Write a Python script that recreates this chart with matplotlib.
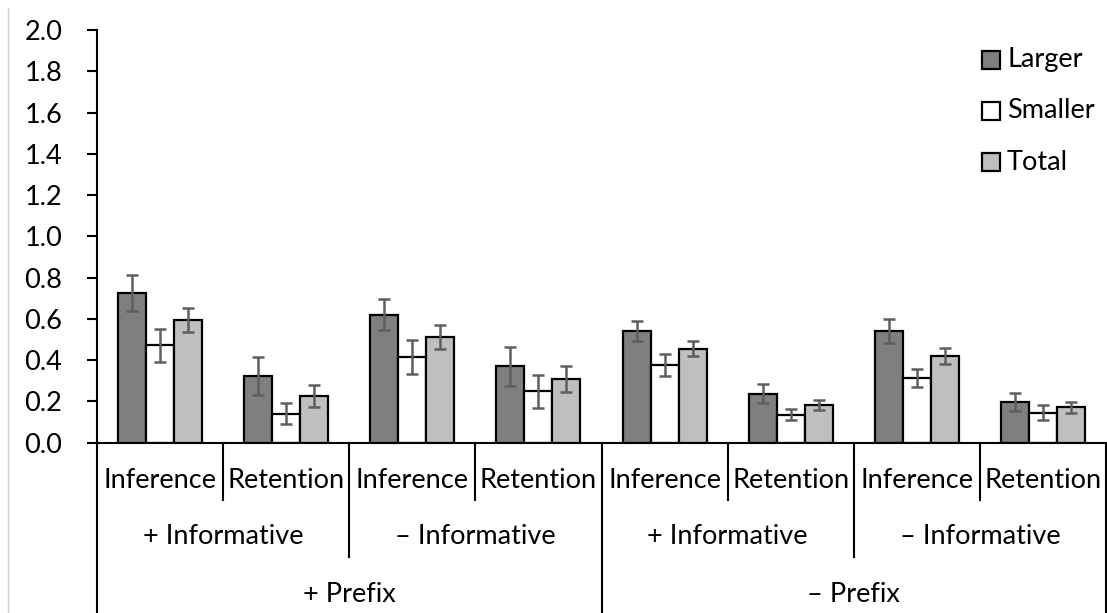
import matplotlib
matplotlib.use("Agg")
import matplotlib.pyplot as plt
from matplotlib.lines import Line2D
from matplotlib.patches import Rectangle
from matplotlib.transforms import blended_transform_factory
import numpy as np

plt.rcParams['font.family'] = ['Lato', 'DejaVu Sans']

# Category hierarchy (innermost first)
tasks = ["Inference", "Retention", "Inference", "Retention",
         "Inference", "Retention", "Inference", "Retention"]
informative = ["+ Informative", "\u2013 Informative", "+ Informative", "\u2013 Informative"]
prefix = ["+ Prefix", "\u2013 Prefix"]

series = ["Larger", "Smaller", "Total"]
larger = [0.725, 0.323, 0.620, 0.370, 0.541, 0.238, 0.541, 0.199]
smaller = [0.473, 0.141, 0.414, 0.249, 0.377, 0.136, 0.312, 0.145]
total = [0.596, 0.226, 0.511, 0.310, 0.456, 0.183, 0.419, 0.171]

larger_err = [0.089, 0.092, 0.075, 0.094, 0.049, 0.045, 0.060, 0.043]
smaller_err = [0.080, 0.052, 0.082, 0.081, 0.052, 0.027, 0.043, 0.036]
total_err = [0.058, 0.052, 0.057, 0.062, 0.038, 0.025, 0.040, 0.028]

yticks = [0.0, 0.2, 0.4, 0.6, 0.8, 1.0, 1.2, 1.4, 1.6, 1.8, 2.0]

fills = ["#7f7f7f", "#ffffff", "#bfbfbf"]
err_color = "#5f5f5f"
FS = 19.5

W, H = 1107, 613
fig = plt.figure(figsize=(W / 100, H / 100), dpi=100)
ax_left, ax_right, ax_top, ax_bottom = 97, 1106, 30, 442.7
ax = fig.add_axes([ax_left / W, (H - ax_bottom) / H,
                   (ax_right - ax_left) / W, (ax_bottom - ax_top) / H])

n = len(tasks)
x = np.arange(n) + 0.5
bw = 0.222
values = [larger, smaller, total]
errors = [larger_err, smaller_err, total_err]
for i, (vals, errs, col) in enumerate(zip(values, errors, fills)):
    pos = x + (i - 1) * bw
    ax.bar(pos, vals, width=bw, color=col, edgecolor="black", linewidth=1.6,
           zorder=2, label=series[i])
    ax.errorbar(pos, vals, yerr=errs, fmt="none", ecolor=err_color,
                elinewidth=1.8, capsize=4.5, capthick=1.8, zorder=3)

ax.set_xlim(0, n)
ax.set_ylim(0, 2.0)
ax.set_yticks(yticks)
ax.set_yticklabels([f"{t:.1f}" for t in yticks])
ax.tick_params(axis="y", direction="out", length=7, width=1.5, pad=18,
               labelsize=FS)
ax.set_xticks([])
for s in ["top", "right"]:
    ax.spines[s].set_visible(False)
ax.spines["left"].set_linewidth(1.5)
ax.spines["bottom"].set_linewidth(1.5)

# Multi-level category axis: separators and labels below the plot
tr = blended_transform_factory(ax.transData, fig.transFigure)

def fy(py):
    return (H - py) / H

def vline(xd, y0, y1):
    fig.add_artist(Line2D([xd, xd], [fy(y0), fy(y1)], transform=tr,
                          color="black", linewidth=1.5))

for b in range(0, n + 1):
    if b % 4 == 0:
        vline(b, ax_bottom, H)
    elif b % 2 == 0:
        vline(b, ax_bottom, 557)
    else:
        vline(b, ax_bottom, 500)

for i, t in enumerate(tasks):
    fig.text(i + 0.5, fy(481), t, transform=tr, ha="center", va="center",
             fontsize=FS)
for i, t in enumerate(informative):
    fig.text(2 * i + 1, fy(537), t, transform=tr, ha="center", va="center",
             fontsize=FS)
for i, t in enumerate(prefix):
    fig.text(4 * i + 2, fy(595), t, transform=tr, ha="center", va="center",
             fontsize=FS)

# faint frame edge on the left
fig.add_artist(Line2D([8 / W, 8 / W], [0, fy(8)], transform=fig.transFigure,
                      color="#d0d0d0", linewidth=1))

# Legend: swatches and labels stacked at the top right
for i, (name, col) in enumerate(zip(series, fills)):
    cy = 60 + 51 * i
    fig.add_artist(Rectangle((982 / W, fy(cy + 9)), 18 / W, 18 / H,
                             transform=fig.transFigure, facecolor=col,
                             edgecolor="black", linewidth=1.6))
    fig.text(1007 / W, fy(cy), name, ha="left", va="center", fontsize=FS)

fig.savefig("out.png", dpi=100)
